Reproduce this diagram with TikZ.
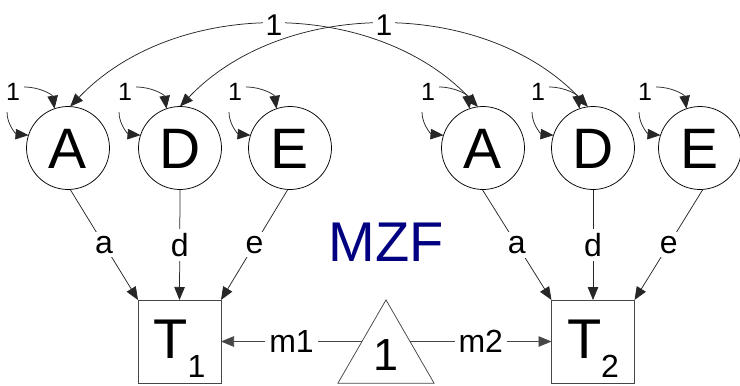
\documentclass[tikz,border=0pt]{standalone}
\usepackage{fontspec}
\setmainfont{Liberation Sans}
\usetikzlibrary{arrows.meta,calc,shapes.geometric}
\definecolor{mzfblue}{RGB}{0,0,128}
\definecolor{edgegray}{RGB}{70,70,70}
\newcommand{\varloop}[1]{%
  \node[smlbl] (#1l) at ($(#1)+(-55,-56)$) {1};
  \coordinate (#1t) at ($(#1)+(-44,-61)$);
  \coordinate (#1s) at ($(#1)+(-61,-36)$);
  \draw[arr] (#1t) .. controls +(16,0) and +(-2,-14) .. (#1.109);
  \draw[arr] (#1s) .. controls +(0,13) and +(-12,-1) .. (#1.162);
}
\tikzset{
  arr/.style={-{Triangle[length=13pt,width=10.5pt]}, line width=0.75pt, draw=black!85},
  darr/.style={{Triangle[length=13pt,width=10.5pt]}-{Triangle[length=13pt,width=10.5pt]}, line width=0.75pt, draw=black!85},
  latent/.style={circle, draw=black, line width=0.75pt, minimum size=83pt, inner sep=0pt, outer sep=0pt,
    font=\fontsize{57}{60}\selectfont, text height=41pt, text depth=0pt},
  manifest/.style={rectangle, draw=edgegray, line width=0.75pt, minimum width=83pt, minimum height=83pt,
    inner sep=0pt, outer sep=0pt, font=\fontsize{56}{60}\selectfont, text height=40pt, text depth=7pt},
  constant/.style={regular polygon, regular polygon sides=3, draw=edgegray, line width=0.75pt,
    minimum size=111pt, inner sep=0pt, outer sep=0pt, font=\fontsize{45}{48}\selectfont},
  lbl/.style={fill=white, inner sep=4pt, font=\fontsize{32}{34}\selectfont},
  toplbl/.style={fill=white, inner sep=3pt, font=\fontsize{30}{32}\selectfont},
  smlbl/.style={inner sep=1pt, font=\fontsize{25}{27}\selectfont},
  titlelbl/.style={text=mzfblue, font=\fontsize{56}{58}\selectfont, inner sep=0pt},
}
\begin{document}
\begin{tikzpicture}[x=1pt, y=-1pt]
\useasboundingbox (0,0) rectangle (740,386);
% latent variables
\node[latent] (A1) at (68,148) {A};
\node[latent] (D1) at (180,148) {D};
\node[latent] (E1) at (290,148) {E};
\node[latent] (A2) at (483,148) {A};
\node[latent] (D2) at (593,148) {D};
\node[latent] (E2) at (700,148) {E};
% observed
\node[manifest] (T1) at (179.5,341.5) {T\raisebox{-19pt}{\fontsize{32}{34}\selectfont 1}};
\node[manifest] (T2) at (593,341.5) {T\raisebox{-19pt}{\fontsize{32}{34}\selectfont 2}};
\node[constant] (K) at (386,355.4) {1};
\node[titlelbl] (MZF) at (386,242) {MZF};
% variances
\varloop{A1}\varloop{D1}\varloop{E1}\varloop{A2}\varloop{D2}\varloop{E2}
% covariances
\draw[darr] (D1.90) .. controls +(104,-109) and +(-104,-109) .. node[toplbl] (c2) {1} (D2.97);
\draw[darr] (A1.87) .. controls +(104,-109) and +(-104,-109) .. node[toplbl] (c1) {1} (A2.97);
% paths to T1
\draw[arr] (A1.-87) -- node[lbl] {a} (T1.north west);
\draw[arr] (D1.south) -- node[lbl] {d} (T1.north);
\draw[arr] (E1.-93) -- node[lbl] {e} (T1.north east);
% paths to T2
\draw[arr] (A2.-91) -- node[lbl] {a} (T2.north west);
\draw[arr] (D2.south) -- node[lbl] {d} (T2.north);
\draw[arr] (E2.-86) -- node[lbl] {e} (T2.north east);
% means
\draw[arr, draw=edgegray] (K.side 1) -- node[lbl] {m1} (T1.east);
\draw[arr, draw=edgegray] (K.side 3) -- node[lbl] {m2} (T2.west);
\end{tikzpicture}
\end{document}
